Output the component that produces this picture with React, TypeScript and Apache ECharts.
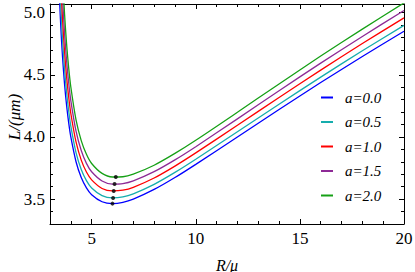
import React, { useEffect, useRef } from "react";
import * as echarts from "echarts";

// R / mu sample positions
const R = [3.4, 3.45, 3.5, 3.55, 3.6, 3.7, 3.8, 3.9, 4.0, 4.25, 4.5, 4.75, 5, 5.5, 6, 6.5, 7, 8, 9, 10, 12, 14, 16, 18, 20];

// L/(mu m) for each a
const L_a00 = [5.376, 5.143, 4.950, 4.787, 4.648, 4.422, 4.249, 4.111, 4.000, 3.801, 3.674, 3.591, 3.536, 3.479, 3.464, 3.474, 3.500, 3.578, 3.674, 3.780, 4.000, 4.221, 4.438, 4.648, 4.851];
const L_a05 = [5.602, 5.340, 5.124, 4.944, 4.790, 4.544, 4.356, 4.207, 4.088, 3.875, 3.739, 3.649, 3.590, 3.528, 3.510, 3.518, 3.543, 3.619, 3.715, 3.821, 4.042, 4.264, 4.482, 4.694, 4.898];
const L_a10 = [5.866, 5.568, 5.325, 5.124, 4.954, 4.684, 4.479, 4.318, 4.189, 3.960, 3.814, 3.718, 3.655, 3.586, 3.566, 3.572, 3.595, 3.670, 3.766, 3.872, 4.094, 4.318, 4.538, 4.752, 4.958];
const L_a15 = [6.156, 5.815, 5.542, 5.317, 5.128, 4.831, 4.607, 4.432, 4.293, 4.047, 3.891, 3.788, 3.720, 3.646, 3.621, 3.625, 3.647, 3.721, 3.816, 3.922, 4.146, 4.372, 4.594, 4.809, 5.018];
const L_a20 = [6.48, 6.088, 5.777, 5.525, 5.315, 4.987, 4.742, 4.552, 4.402, 4.138, 3.971, 3.861, 3.787, 3.707, 3.678, 3.680, 3.701, 3.773, 3.868, 3.974, 4.199, 4.427, 4.651, 4.868, 5.079];

const seriesNames = ["a=0.0", "a=0.5", "a=1.0", "a=1.5", "a=2.0"];
const seriesColors = ["#0000ff", "#16adad", "#ff0000", "#8e2a96", "#16a016"];

// minima (black dots)
const minR = [6.0, 6.03, 6.06, 6.1, 6.16];
const minL = [3.464, 3.510, 3.566, 3.621, 3.678];

const yTitle = "L/(μm)";
const xTitle = "R/μ";

const FONT = "'Liberation Serif', 'Times New Roman', serif";

export default function App() {
  const ref = useRef<HTMLDivElement>(null);
  useEffect(() => {
    if (!ref.current) return;
    const chart = echarts.init(ref.current, undefined, { renderer: "svg" });
    const allL = [L_a00, L_a05, L_a10, L_a15, L_a20];
    const axisLine = { show: true, lineStyle: { color: "#000", width: 1 } };
    const majorTick = { show: true, inside: true, length: 5, lineStyle: { color: "#000", width: 1 } };
    const minorTickS = { show: true, inside: true, length: 3, lineStyle: { color: "#000", width: 1 } };
    const xBase = { type: "value", min: 3, max: 20, splitLine: { show: false } };
    const yBase = { type: "value", min: 3.3, max: 5.07, splitLine: { show: false } };
    const option: any = {
      animation: false,
      grid: { left: 50, right: 11, top: 4, bottom: 48, containLabel: false, outerBoundsMode: "none" },
      graphic: [
        {
          type: "text",
          x: 14,
          y: 117,
          rotation: Math.PI / 2,
          style: {
            text: yTitle,
            fill: "#000",
            font: `italic 17px ${FONT}`,
            align: "center",
            verticalAlign: "middle",
          },
        },
      ],
      xAxis: [
        {
          ...xBase,
          position: "bottom",
          splitNumber: 4,
          axisLine,
          axisTick: majorTick,
          axisLabel: {
            show: true,
            margin: 6,
            color: "#000",
            fontFamily: FONT,
            fontSize: 17,
            formatter: (v: number) => (Math.abs(v % 5) < 1e-9 ? String(v) : ""),
          },
          name: xTitle,
          nameLocation: "middle",
          nameGap: 33,
          nameTextStyle: { color: "#000", fontFamily: FONT, fontSize: 16, fontStyle: "italic" },
        },
        { ...xBase, position: "bottom", interval: 1, axisLine: { show: false }, axisTick: minorTickS, axisLabel: { show: false } },
        { ...xBase, position: "top", splitNumber: 4, axisLine, axisTick: majorTick, axisLabel: { show: false } },
        { ...xBase, position: "top", interval: 1, axisLine: { show: false }, axisTick: minorTickS, axisLabel: { show: false } },
      ],
      yAxis: [
        {
          ...yBase,
          position: "left",
          splitNumber: 4,
          axisLine,
          axisTick: majorTick,
          axisLabel: {
            show: true,
            margin: 5,
            color: "#000",
            fontFamily: FONT,
            fontSize: 17,
            formatter: (v: number) => (Math.abs(v * 2 - Math.round(v * 2)) < 1e-6 ? v.toFixed(1) : ""),
          },
        },
        { ...yBase, position: "left", interval: 0.1, axisLine: { show: false }, axisTick: minorTickS, axisLabel: { show: false } },
        { ...yBase, position: "right", splitNumber: 4, axisLine, axisTick: majorTick, axisLabel: { show: false } },
        { ...yBase, position: "right", interval: 0.1, axisLine: { show: false }, axisTick: minorTickS, axisLabel: { show: false } },
      ],
      legend: {
        orient: "vertical",
        left: 316,
        top: 85,
        icon: "rect",
        itemWidth: 12,
        itemHeight: 2,
        itemGap: 9.5,
        data: seriesNames,
        textStyle: { color: "#000", fontFamily: FONT, fontSize: 15, fontStyle: "italic", padding: [0, 0, 0, 7] },
      },
      series: [
        ...seriesNames.map((name, i) => ({
          name,
          type: "line",
          xAxisIndex: 0,
          yAxisIndex: 0,
          data: R.map((r, j) => [r, allL[i][j]]),
          smooth: 0.3,
          symbol: "none",
          showSymbol: false,
          clip: true,
          lineStyle: { color: seriesColors[i], width: 1.3 },
          itemStyle: { color: seriesColors[i] },
        })),
        {
          name: "minima",
          type: "scatter",
          xAxisIndex: 0,
          yAxisIndex: 0,
          data: minR.map((r, j) => [r, minL[j]]),
          symbolSize: 4,
          itemStyle: { color: "#000" },
          z: 5,
        },
      ],
    };
    chart.setOption(option);
    return () => chart.dispose();
  }, []);
  return <div ref={ref} style={{ position: "absolute", left: 0, top: 0, width: 415, height: 272 }} />;
}
